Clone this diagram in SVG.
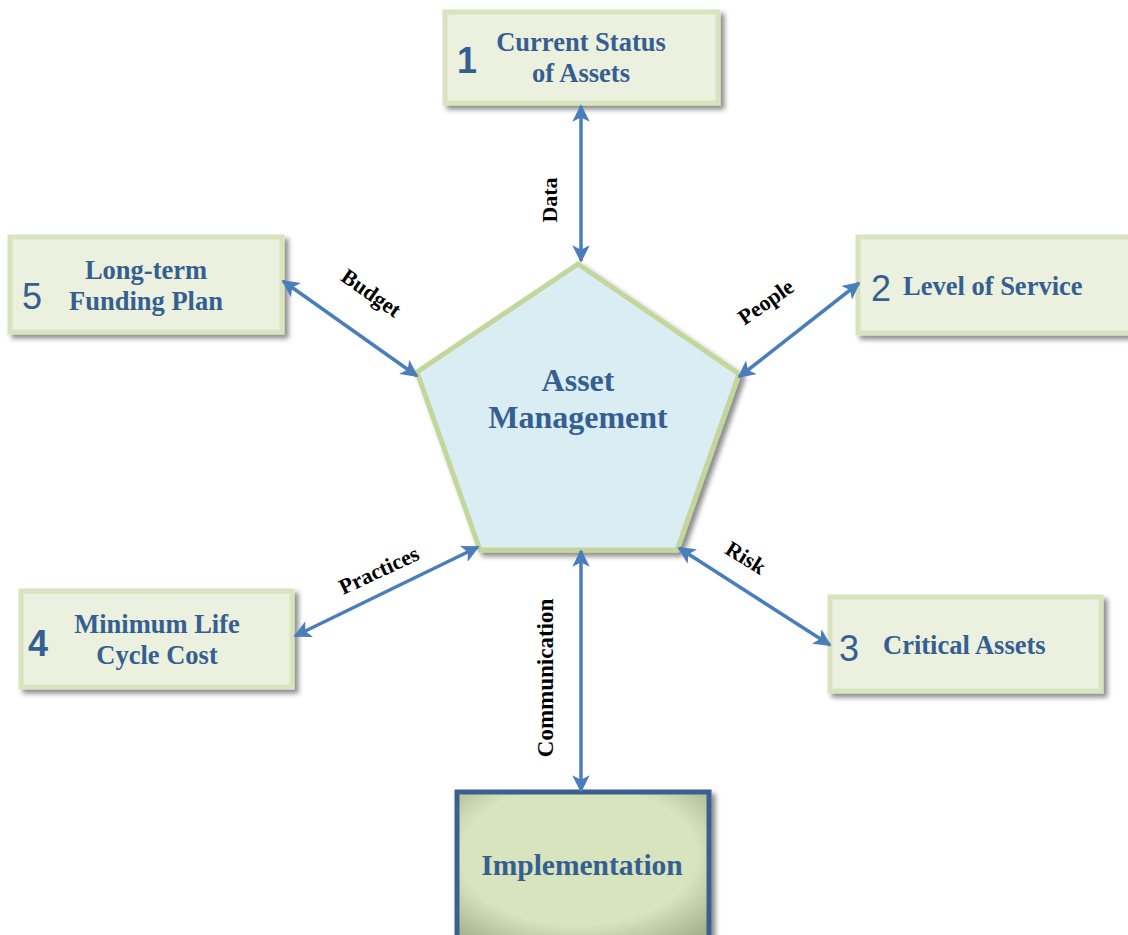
<svg xmlns="http://www.w3.org/2000/svg" width="1128" height="935" viewBox="0 0 1128 935">
  <defs>
    <filter id="shadow" x="-10%" y="-10%" width="125%" height="130%">
      <feDropShadow dx="4" dy="4" stdDeviation="2.5" flood-color="#000" flood-opacity="0.45"/>
    </filter>
    <radialGradient id="implFill" cx="48%" cy="42%" r="72%">
      <stop offset="0.65" stop-color="#d7e4bd"/>
      <stop offset="1" stop-color="#a3b08a"/>
    </radialGradient>
    <marker id="head" viewBox="0 0 10 10" refX="9" refY="5" markerWidth="5" markerHeight="5" orient="auto-start-reverse" markerUnits="strokeWidth">
      <path d="M0,0 L10,5 L0,10 L2.5,5 Z" fill="#4a7ebb"/>
    </marker>
  </defs>
  <style>
    .box { fill: #ebf1de; stroke: #d7e4bd; stroke-width: 5; filter: url(#shadow); }
    .label { font-family: "Liberation Serif", "Times New Roman", serif; font-weight: bold; fill: #365f91; font-size: 26.5px; }
    .big { font-size: 32px; }
    .impl { font-size: 29.5px; }
    .num { font-family: "Liberation Sans", Arial, sans-serif; fill: #365f91; font-size: 36px; }
    .heavy { font-weight: bold; }
    .edge { stroke: #4a7ebb; stroke-width: 3.5; fill: none; marker-start: url(#head); marker-end: url(#head); }
    .elabel { font-family: "Liberation Serif", "Times New Roman", serif; font-weight: bold; fill: #000; font-size: 22px; text-anchor: middle; }
  </style>
  <rect width="1128" height="935" fill="#fff"/>

  <!-- central pentagon -->
  <g id="asset-management">
    <polygon points="578,264 739,374 677,550 480,550 417,372" fill="#daedf3" stroke="#c3d69b" stroke-width="5" stroke-linejoin="miter" filter="url(#shadow)"/>
    <text class="label big" x="578" y="391" text-anchor="middle">Asset</text>
    <text class="label big" x="578" y="428" text-anchor="middle">Management</text>
  </g>

  <g id="node-1">
    <rect class="box" x="445" y="12" width="273" height="91"/>
    <text class="num heavy" x="467" y="73" text-anchor="middle">1</text>
    <text class="label" x="581" y="51" text-anchor="middle">Current Status</text>
    <text class="label" x="581" y="82" text-anchor="middle">of Assets</text>
  </g>

  <g id="node-2">
    <rect class="box" x="858" y="237" width="275" height="96"/>
    <text class="num" x="881" y="301" text-anchor="middle">2</text>
    <text class="label" x="903" y="295">Level of Service</text>
  </g>

  <g id="node-3">
    <rect class="box" x="830" y="597" width="271" height="94"/>
    <text class="num" x="849" y="661" text-anchor="middle">3</text>
    <text class="label" x="883" y="654">Critical Assets</text>
  </g>

  <g id="node-4">
    <rect class="box" x="21" y="591" width="271" height="96"/>
    <text class="num heavy" x="38" y="656" text-anchor="middle">4</text>
    <text class="label" x="157" y="633" text-anchor="middle">Minimum Life</text>
    <text class="label" x="157" y="664" text-anchor="middle">Cycle Cost</text>
  </g>

  <g id="node-5">
    <rect class="box" x="10" y="237" width="272" height="95"/>
    <text class="num" x="32" y="309" text-anchor="middle">5</text>
    <text class="label" x="146" y="279" text-anchor="middle">Long-term</text>
    <text class="label" x="146" y="310" text-anchor="middle">Funding Plan</text>
  </g>

  <g id="implementation">
    <rect x="457" y="792" width="252" height="150" fill="url(#implFill)" stroke="#3a6190" stroke-width="5" filter="url(#shadow)"/>
    <text class="label impl" x="582" y="875" text-anchor="middle">Implementation</text>
  </g>

  <!-- connectors -->
  <g id="connectors">
    <line class="edge" x1="581" y1="106" x2="581" y2="261"/>
    <line class="edge" x1="283" y1="281" x2="417" y2="376"/>
    <line class="edge" x1="859" y1="283" x2="739" y2="377"/>
    <line class="edge" x1="295" y1="636" x2="478" y2="547"/>
    <line class="edge" x1="679" y1="548" x2="830" y2="645"/>
    <line class="edge" x1="581" y1="551" x2="581" y2="791"/>
    <text class="elabel" transform="translate(557,200) rotate(-90)">Data</text>
    <text class="elabel" transform="translate(367,299) rotate(35)">Budget</text>
    <text class="elabel" transform="translate(770,308) rotate(-35)">People</text>
    <text class="elabel" transform="translate(382,577) rotate(-25)">Practices</text>
    <text class="elabel" transform="translate(742,564) rotate(32)">Risk</text>
    <text class="elabel" transform="translate(553,678) rotate(-90)" style="font-size:23px">Communication</text>
  </g>
</svg>
